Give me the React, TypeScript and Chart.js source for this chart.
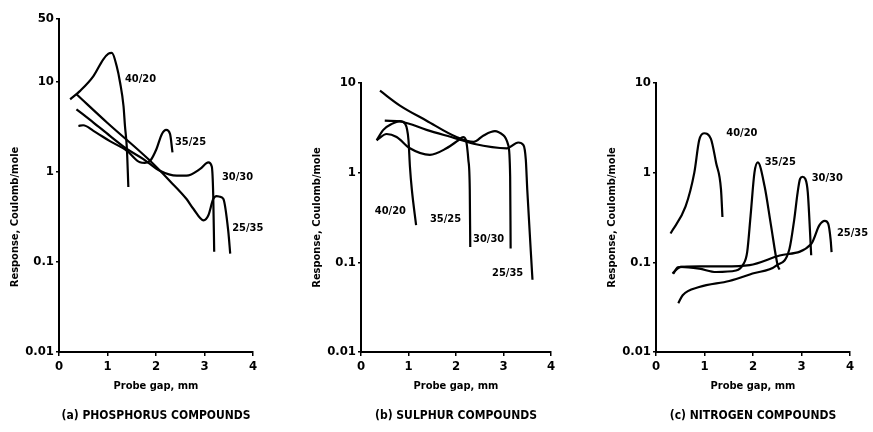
import React, { useEffect, useRef } from 'react';
import { Chart, registerables } from 'chart.js';
Chart.register(...registerables);

const FONT = "'Liberation Sans Narrow', 'DejaVu Sans Condensed', 'Roboto Condensed', Roboto, Arial, sans-serif";

// ---------- shared ticks / labels ----------
const xTicks = [0, 1, 2, 3, 4];
const xTickLabels = ['0', '1', '2', '3', '4'];
const yTicksA = [0.01, 0.1, 1, 10, 50];
const yTickLabelsA = ['0.01', '0.1', '1', '10', '50'];
const yTicksBC = [0.01, 0.1, 1, 10];
const yTickLabelsBC = ['0.01', '0.1', '1', '10'];
const seriesNames = ['40/20', '35/25', '30/30', '25/35'];
const xTitle = 'Probe gap, mm';
const yTitle = 'Response, Coulomb/mole';
const captions = ['(a) PHOSPHORUS COMPOUNDS', '(b) SULPHUR COMPOUNDS', '(c) NITROGEN COMPOUNDS'];

// ---------- panel (a) phosphorus ----------
const a4020X = [0.23, 0.43, 0.71, 0.91, 1.02, 1.09, 1.19, 1.26, 1.33, 1.36, 1.40, 1.43];
const a4020Y = [6.4, 7.9, 11.6, 17.7, 20.6, 21, 14.9, 9.8, 5.4, 3.25, 1.8, 0.68];
const a3525X = [0.40, 0.50, 0.71, 1.05, 1.40, 1.67, 1.77, 1.88, 2.01, 2.12, 2.21, 2.29, 2.34];
const a3525Y = [3.24, 3.3, 2.86, 2.2, 1.72, 1.28, 1.26, 1.33, 1.8, 2.63, 2.93, 2.63, 1.65];
const a3030X = [0.36, 0.71, 1.05, 1.40, 1.74, 2.08, 2.43, 2.63, 2.91, 3.08, 3.15, 3.18, 3.20];
const a3030Y = [4.97, 3.54, 2.52, 1.8, 1.39, 1.03, 0.91, 0.91, 1.08, 1.28, 1.15, 0.55, 0.13];
const a2535X = [0.36, 1.0, 1.84, 2.3, 2.63, 2.77, 2.98, 3.08, 3.18, 3.25, 3.32, 3.39, 3.49, 3.53];
const a2535Y = [7.3, 3.5, 1.39, 0.78, 0.5, 0.39, 0.29, 0.33, 0.50, 0.54, 0.53, 0.50, 0.22, 0.124];
const aLabelX = [1.36, 2.39, 3.36, 3.57];
const aLabelY = [10.7, 2.15, 0.88, 0.235];

// ---------- panel (b) sulphur ----------
const b4020X = [0.33, 0.47, 0.65, 0.82, 0.93, 1.0, 1.03, 1.07, 1.16];
const b4020Y = [2.3, 3.0, 3.5, 3.76, 3.5, 2.3, 1.17, 0.65, 0.26];
const b3525X = [0.33, 0.54, 0.75, 1.03, 1.45, 1.80, 2.05, 2.15, 2.21, 2.26, 2.29, 2.30];
const b3525Y = [2.3, 2.7, 2.5, 1.87, 1.58, 1.87, 2.3, 2.5, 2.3, 1.39, 0.65, 0.148];
const b3030X = [0.40, 0.82, 1.38, 2.01, 2.37, 2.58, 2.82, 3.0, 3.1, 3.14, 3.15];
const b3030Y = [8.2, 5.6, 3.8, 2.5, 2.2, 2.6, 2.9, 2.6, 2.03, 0.91, 0.143];
const b2535X = [0.50, 0.86, 1.38, 2.01, 2.37, 3.07, 3.31, 3.42, 3.47, 3.50, 3.61];
const b2535Y = [3.8, 3.7, 3.0, 2.4, 2.1, 1.87, 2.17, 2.03, 1.39, 0.65, 0.064];
const bLabelX = [0.29, 1.45, 2.36, 2.76];
const bLabelY = [0.37, 0.30, 0.18, 0.076];

// ---------- panel (c) nitrogen ----------
const c4020X = [0.30, 0.61, 0.79, 0.89, 0.99, 1.13, 1.24, 1.34, 1.37];
const c4020Y = [0.21, 0.42, 1.0, 2.3, 2.75, 2.4, 1.28, 0.65, 0.32];
const c3525X = [0.34, 0.51, 0.89, 1.24, 1.65, 1.80, 1.88, 1.95, 2.03, 2.10, 2.24, 2.37, 2.51, 2.55];
const c3525Y = [0.075, 0.089, 0.085, 0.078, 0.081, 0.095, 0.13, 0.33, 1.0, 1.3, 0.7, 0.26, 0.092, 0.083];
const c3030X = [0.46, 0.55, 0.89, 1.51, 1.99, 2.48, 2.75, 2.85, 2.92, 2.97, 3.02, 3.08, 3.13, 3.20];
const c3030Y = [0.035, 0.043, 0.053, 0.062, 0.075, 0.092, 0.14, 0.3, 0.6, 0.85, 0.9, 0.85, 0.6, 0.12];
const c2535X = [0.36, 0.45, 0.9, 1.4, 1.93, 2.55, 3.2, 3.37, 3.48, 3.55, 3.60, 3.62];
const c2535Y = [0.075, 0.088, 0.09, 0.09, 0.093, 0.119, 0.16, 0.26, 0.29, 0.27, 0.18, 0.13];
const cLabelX = [1.45, 2.24, 3.21, 3.73];
const cLabelY = [2.76, 1.32, 0.86, 0.21];

type PanelProps = {
  left: number;
  width: number;
  padLeft: number;
  padTop: number;
  padRight: number;
  yMax: number;
  yTicks: number[];
  yTickLabels: string[];
  series: [number[], number[]][];
  labelX: number[];
  labelY: number[];
  caption: string;
};

function Panel(p: PanelProps) {
  const ref = useRef<HTMLCanvasElement | null>(null);
  useEffect(() => {
    if (!ref.current) return;
    const textPlugin = {
      id: 'panelText',
      afterDraw(chart: any) {
        const { ctx, chartArea, scales } = chart;
        const xs = scales.x;
        const ys = scales.y;
        ctx.save();
        ctx.fillStyle = '#000';
        ctx.font = `bold 11px ${FONT}`;
        ctx.textBaseline = 'middle';
        ctx.textAlign = 'left';
        seriesNames.forEach((n, i) => {
          ctx.fillText(n, xs.getPixelForValue(p.labelX[i]), ys.getPixelForValue(p.labelY[i]));
        });
        const yc = (ys.getPixelForValue(10) + ys.getPixelForValue(0.01)) / 2;
        ctx.translate(chartArea.left - 44, yc);
        ctx.rotate(-Math.PI / 2);
        ctx.textAlign = 'center';
        ctx.font = `bold 11px ${FONT}`;
        ctx.fillText(yTitle, 0, 0);
        ctx.restore();
        ctx.save();
        ctx.fillStyle = '#000';
        ctx.font = `bold 12px ${FONT}`;
        ctx.textAlign = 'center';
        ctx.textBaseline = 'middle';
        ctx.fillText(p.caption, (chartArea.left + chartArea.right) / 2, chart.height - 16);
        ctx.restore();
      },
    };
    const chart = new Chart(ref.current, {
      type: 'line',
      data: {
        datasets: p.series.map(([xs, ys], i) => ({
          label: seriesNames[i],
          data: xs.map((x, j) => ({ x, y: ys[j] })),
          borderColor: '#000',
          borderWidth: 2.2,
          pointRadius: 0,
          fill: false,
          cubicInterpolationMode: 'monotone' as const,
        })),
      },
      options: {
        animation: false,
        responsive: false,
        devicePixelRatio: 1,
        layout: { padding: { left: p.padLeft, top: p.padTop, right: p.padRight, bottom: 35 } },
        plugins: { legend: { display: false }, tooltip: { enabled: false }, title: { display: false } },
        scales: {
          x: {
            type: 'linear',
            min: 0,
            max: 4,
            afterBuildTicks: (s: any) => {
              s.ticks = xTicks.map((v) => ({ value: v }));
            },
            afterFit: (s: any) => {
              s.height = 45;
            },
            border: { display: true, color: '#000', width: 2 },
            grid: { display: true, drawOnChartArea: false, drawTicks: true, tickLength: 4, color: '#000', lineWidth: 1.5 },
            ticks: {
              color: '#000',
              font: { family: FONT, size: 13, weight: 'bold' },
              padding: 3,
              maxRotation: 0,
              autoSkip: false,
              callback: (v: any) => xTickLabels[xTicks.indexOf(Number(v))],
            },
            title: {
              display: true,
              text: xTitle,
              color: '#000',
              font: { family: FONT, size: 11, weight: 'bold' },
              padding: { top: 0, bottom: 4 },
            },
          },
          y: {
            type: 'logarithmic',
            min: 0.01,
            max: p.yMax,
            afterBuildTicks: (s: any) => {
              s.ticks = p.yTicks.map((v) => ({ value: v, major: true }));
            },
            afterFit: (s: any) => {
              s.width = 59;
            },
            border: { display: true, color: '#000', width: 2 },
            grid: { display: true, drawOnChartArea: false, drawTicks: true, tickLength: 3, color: '#000', lineWidth: 1.5 },
            ticks: {
              color: '#000',
              font: { family: FONT, size: 13, weight: 'bold' },
              padding: 2,
              autoSkip: false,
              callback: (v: any) => p.yTickLabels[p.yTicks.indexOf(Number(v))],
            },
          },
        },
      },
      plugins: [textPlugin],
    } as any);
    return () => chart.destroy();
  }, []);
  return (
    <canvas
      ref={ref}
      width={p.width}
      height={432}
      style={{ position: 'absolute', left: p.left, top: 0, width: p.width, height: 432 }}
    />
  );
}

export default function App() {
  return (
    <div style={{ position: 'fixed', left: 0, top: 0, width: 873, height: 432, background: '#fff', overflow: 'hidden' }}>
      <Panel
        left={0}
        width={290}
        padLeft={0}
        padTop={19}
        padRight={37}
        yMax={50}
        yTicks={yTicksA}
        yTickLabels={yTickLabelsA}
        series={[[a4020X, a4020Y], [a3525X, a3525Y], [a3030X, a3030Y], [a2535X, a2535Y]]}
        labelX={aLabelX}
        labelY={aLabelY}
        caption={captions[0]}
      />
      <Panel
        left={290}
        width={290}
        padLeft={12}
        padTop={83}
        padRight={29}
        yMax={10}
        yTicks={yTicksBC}
        yTickLabels={yTickLabelsBC}
        series={[[b4020X, b4020Y], [b3525X, b3525Y], [b3030X, b3030Y], [b2535X, b2535Y]]}
        labelX={bLabelX}
        labelY={bLabelY}
        caption={captions[1]}
      />
      <Panel
        left={580}
        width={293}
        padLeft={17}
        padTop={83}
        padRight={23}
        yMax={10}
        yTicks={yTicksBC}
        yTickLabels={yTickLabelsBC}
        series={[[c4020X, c4020Y], [c3525X, c3525Y], [c3030X, c3030Y], [c2535X, c2535Y]]}
        labelX={cLabelX}
        labelY={cLabelY}
        caption={captions[2]}
      />
    </div>
  );
}
